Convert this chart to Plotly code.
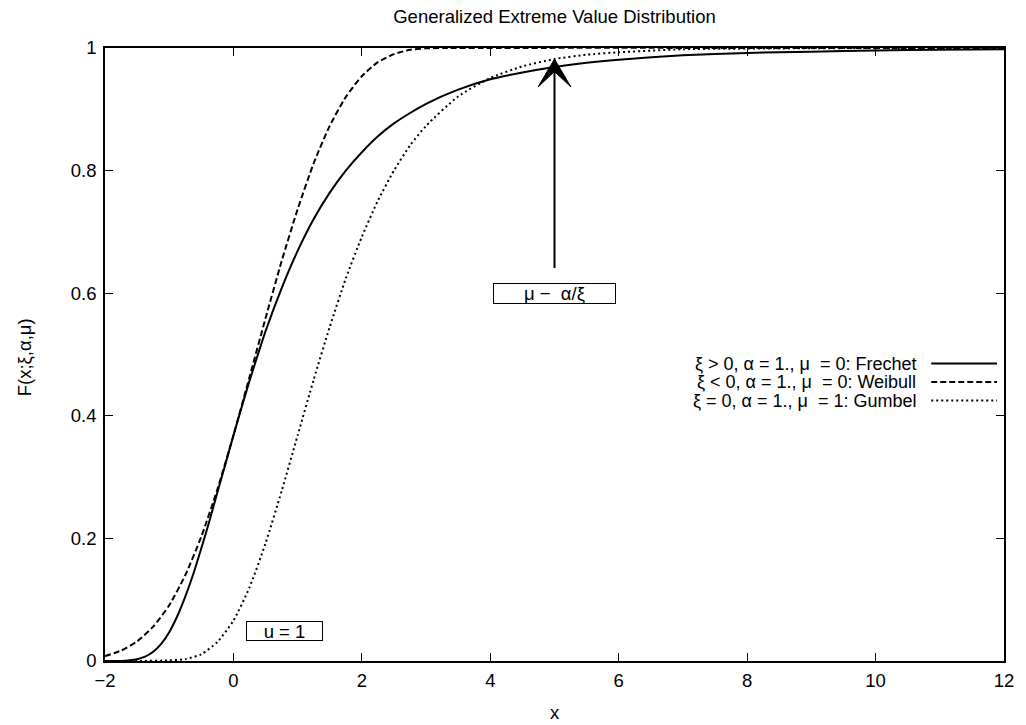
import plotly.graph_objects as go

# ---- data ----
FRECHET_X = [-2, -1.75, -1.5, -1.375, -1.25, -1.125, -1, -0.875, -0.75, -0.625, -0.5, -0.375, -0.25,
             -0.125, 0, 0.125, 0.25, 0.375, 0.5, 0.75, 1, 1.25, 1.5, 1.75, 2, 2.25, 2.5, 2.75, 3,
             3.5, 4, 4.5, 5, 5.5, 6, 7, 8, 9, 10, 11, 12]
FRECHET_Y = [0.000, 0.000, 0.003, 0.007, 0.015, 0.028, 0.047, 0.073, 0.105, 0.142, 0.184, 0.228, 0.275,
             0.321, 0.368, 0.413, 0.457, 0.498, 0.538, 0.608, 0.669, 0.721, 0.764, 0.800, 0.830, 0.856,
             0.877, 0.894, 0.909, 0.932, 0.949, 0.960, 0.969, 0.976, 0.981, 0.988, 0.992, 0.994, 0.996,
             0.997, 0.998]

WEIBULL_X = [-2, -1.75, -1.5, -1.25, -1, -0.75, -0.5, -0.25, 0, 0.25, 0.5, 0.75, 1, 1.25, 1.5,
             1.75, 2, 2.25, 2.5, 2.75, 3, 3.333, 12]
WEIBULL_Y = [0.008, 0.017, 0.032, 0.056, 0.091, 0.140, 0.203, 0.280, 0.368, 0.463, 0.559, 0.652,
             0.737, 0.812, 0.873, 0.920, 0.954, 0.977, 0.990, 0.997, 0.9995, 1.000, 1.000]

GUMBEL_X = [-2, -1.5, -1, -0.75, -0.5, -0.25, 0, 0.25, 0.5, 0.75, 1, 1.25, 1.5, 1.75, 2, 2.25,
            2.5, 2.75, 3, 3.5, 4, 4.5, 5, 5.5, 6, 7, 8, 10, 12]
GUMBEL_Y = [0.000, 0.000, 0.001, 0.003, 0.011, 0.031, 0.066, 0.120, 0.192, 0.277, 0.368, 0.459,
            0.545, 0.624, 0.692, 0.751, 0.800, 0.841, 0.873, 0.921, 0.951, 0.970, 0.982, 0.989,
            0.993, 0.998, 0.999, 1.000, 1.000]

SERIES_NAMES = ["ξ > 0, α = 1., μ \u00a0= 0: Frechet",
                "ξ < 0, α = 1., μ \u00a0= 0: Weibull",
                "ξ = 0, α = 1., μ \u00a0= 1: Gumbel"]

X_TICKS = [-2, 0, 2, 4, 6, 8, 10, 12]
Y_TICKS = [0, 0.2, 0.4, 0.6, 0.8, 1]

TITLE = "Generalized Extreme Value Distribution"
X_TITLE = "x"
Y_TITLE = "F(x;ξ,α,μ)"

LABEL_BOUND = "μ −\u00a0 α/ξ"
LABEL_BOUND_POS = (5, 0.6)
LABEL_U = "u = 1"
LABEL_U_POS = (0.8, 0.049)
ARROW_X = 5
ARROW_FROM = 0.641
ARROW_TO = 0.982

# ---- styling ----
FONT = "Liberation Sans, Arial, Helvetica, sans-serif"
FS = 18.5
FS_LEG = 18
W, H = 1026, 725
ML, MR, MT, MB = 105, 19, 48, 64
PW, PH = W - ML - MR, H - MT - MB
DASHES = ["solid", "6px,3px", "2px,3px"]

fig = go.Figure()
for xs, ys, nm, ds in zip([FRECHET_X, WEIBULL_X, GUMBEL_X],
                          [FRECHET_Y, WEIBULL_Y, GUMBEL_Y], SERIES_NAMES, DASHES):
    fig.add_trace(go.Scatter(x=xs, y=ys, mode="lines", name=nm, showlegend=False,
                             line=dict(color="black", width=2, dash=ds, shape="spline", smoothing=0.6)))

# legend in gnuplot style (text right aligned, sample to the right)
leg_rows_px = [363.5, 382, 400.5]
text_right_px = 921
sample_px = (934, 1000)
for nm, ds, ypx in zip(SERIES_NAMES, DASHES, leg_rows_px):
    yp = (MT + PH - ypx) / PH
    fig.add_annotation(x=(text_right_px - ML) / PW, y=yp, xref="paper", yref="paper",
                       text=nm, showarrow=False, xanchor="right", yanchor="middle",
                       font=dict(family=FONT, size=FS_LEG, color="black"))
    fig.add_shape(type="line", xref="paper", yref="paper",
                  x0=(sample_px[0] - ML) / PW, x1=(sample_px[1] - ML) / PW, y0=yp, y1=yp,
                  line=dict(color="black", width=2, dash=ds))

# boxed labels
fig.add_annotation(x=LABEL_BOUND_POS[0], y=LABEL_BOUND_POS[1], text=LABEL_BOUND, showarrow=False,
                   xanchor="center", yanchor="middle", width=121, height=19, borderpad=0,
                   bordercolor="black", borderwidth=1, bgcolor="white",
                   font=dict(family=FONT, size=FS, color="black"))
fig.add_annotation(x=LABEL_U_POS[0], y=LABEL_U_POS[1], text=LABEL_U, showarrow=False,
                   xanchor="center", yanchor="middle", width=75, height=18, borderpad=0,
                   bordercolor="black", borderwidth=1, bgcolor="white",
                   font=dict(family=FONT, size=FS, color="black"))

# arrow: shaft + filled notched head
head_len = 28 / PH
notch = 12.5 / PH
hx = 16.5 * 14 / PW
fig.add_shape(type="line", xref="x", yref="y", x0=ARROW_X, x1=ARROW_X,
              y0=ARROW_FROM, y1=ARROW_TO - notch, line=dict(color="black", width=2))
path = (f"M {ARROW_X} {ARROW_TO} L {ARROW_X - hx} {ARROW_TO - head_len} "
        f"L {ARROW_X} {ARROW_TO - notch} L {ARROW_X + hx} {ARROW_TO - head_len} Z")
fig.add_shape(type="path", xref="x", yref="y", path=path,
              fillcolor="black", line=dict(color="black", width=1))

# titles
fig.update_layout(
    title=dict(text=TITLE, x=0.5, xref="paper", xanchor="center", y=1 - 17 / H, yanchor="middle",
               font=dict(family=FONT, size=FS, color="black")),
)
fig.add_annotation(x=0.5, y=(MT + PH - 712) / PH, xref="paper", yref="paper", text=X_TITLE,
                   showarrow=False, xanchor="center", yanchor="middle",
                   font=dict(family=FONT, size=FS, color="black"))
fig.add_annotation(x=(24 - ML) / PW, y=(MT + PH - 357) / PH, xref="paper", yref="paper",
                   text=Y_TITLE, showarrow=False, xanchor="center", yanchor="middle",
                   textangle=-90, font=dict(family=FONT, size=FS, color="black"))

axis_common = dict(showline=True, linecolor="black", linewidth=1.5, mirror="ticks",
                   ticks="inside", ticklen=8, tickwidth=1, tickcolor="black",
                   showgrid=False, zeroline=False,
                   tickfont=dict(family=FONT, size=FS, color="black"))
fig.update_xaxes(range=[-2, 12], tickvals=X_TICKS, ticklabelstandoff=2, **axis_common)
fig.update_yaxes(range=[0, 1], tickvals=Y_TICKS, ticklabelstandoff=3, **axis_common)

fig.update_layout(width=W, height=H, margin=dict(l=ML, r=MR, t=MT, b=MB, pad=0),
                  plot_bgcolor="white", paper_bgcolor="white", showlegend=False)

fig.write_html("out.html")
